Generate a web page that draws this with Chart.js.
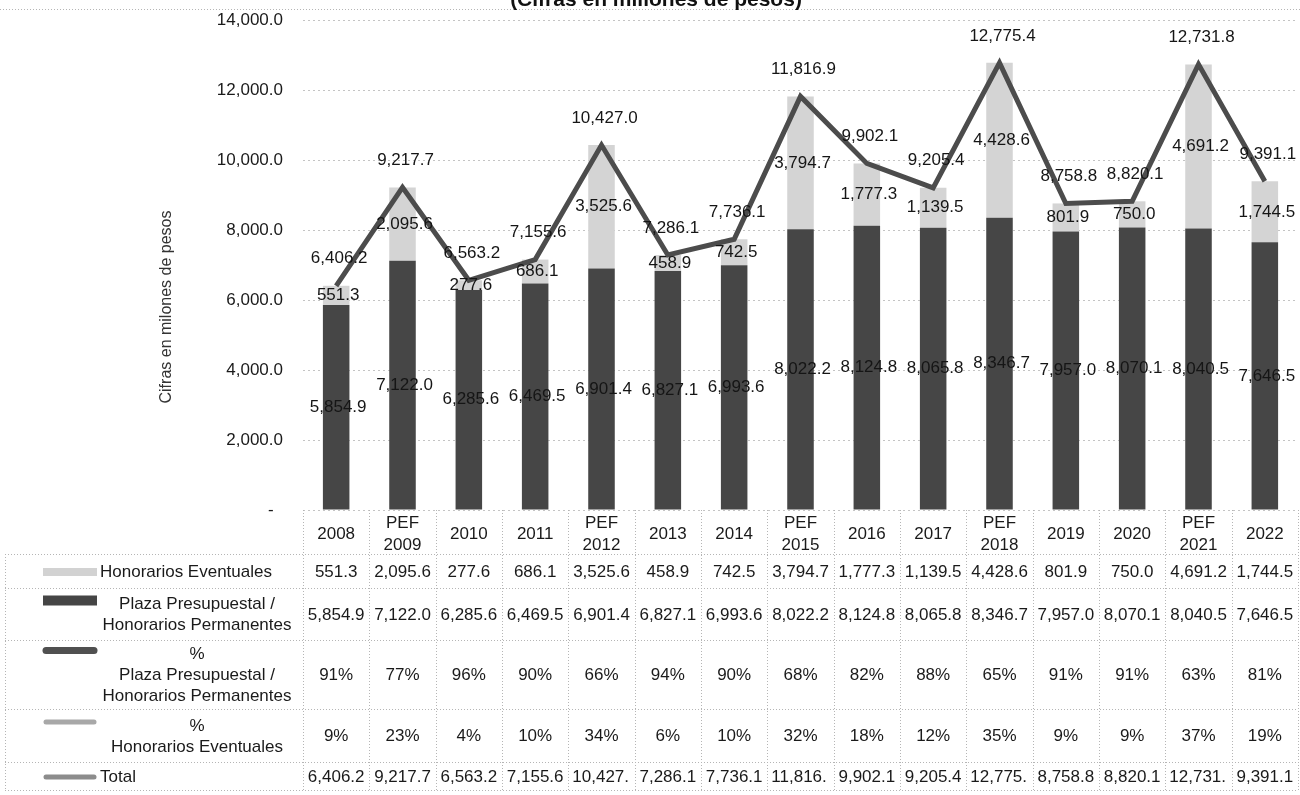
<!DOCTYPE html>
<html>
<head>
<meta charset="utf-8">
<script src="https://cdn.jsdelivr.net/npm/chart.js@4.4.0/dist/chart.umd.min.js"></script>
<style>
  html, body { margin: 0; padding: 0; background: #fff; }
  #wrap { width: 1300px; height: 795px; }
</style>
</head>
<body>
<div id="wrap"><canvas id="myChart" width="1300" height="795"></canvas></div>
<script>
const categories = ["2008", ["PEF", "2009"], "2010", "2011", ["PEF", "2012"], "2013", "2014", ["PEF", "2015"],
  "2016", "2017", ["PEF", "2018"], "2019", "2020", ["PEF", "2021"], "2022"];
const honorarios = [551.3, 2095.6, 277.6, 686.1, 3525.6, 458.9, 742.5, 3794.7, 1777.3, 1139.5, 4428.6, 801.9, 750.0, 4691.2, 1744.5];
const plaza = [5854.9, 7122.0, 6285.6, 6469.5, 6901.4, 6827.1, 6993.6, 8022.2, 8124.8, 8065.8, 8346.7, 7957.0, 8070.1, 8040.5, 7646.5];
const pctPlaza = [91, 77, 96, 90, 66, 94, 90, 68, 82, 88, 65, 91, 91, 63, 81];
const pctHonor = [9, 23, 4, 10, 34, 6, 10, 32, 18, 12, 35, 9, 9, 37, 19];
const total = [6406.2, 9217.7, 6563.2, 7155.6, 10427.0, 7286.1, 7736.1, 11816.9, 9902.1, 9205.4, 12775.4, 8758.8, 8820.1, 12731.8, 9391.1];

const FONT = "'Liberation Sans', Arial, sans-serif";
const fmt = (v) => v.toLocaleString("en-US", { minimumFractionDigits: 1, maximumFractionDigits: 1 });

// value labels on bars and line
const valueLabels = {
  id: "valueLabels",
  afterDatasetsDraw(chart) {
    const ctx = chart.ctx;
    ctx.save();
    ctx.font = "17px " + FONT;
    ctx.fillStyle = "#151515";
    ctx.textAlign = "center";
    ctx.textBaseline = "middle";
    chart.data.datasets.forEach((ds, i) => {
      const meta = chart.getDatasetMeta(i);
      meta.data.forEach((el, j) => {
        const v = ds.data[j];
        if (ds.type === "line") ctx.fillText(fmt(v), el.x + 3, el.y - 27);
        else ctx.fillText(fmt(v), el.x + 2, (el.y + el.base) / 2);
      });
    });
    ctx.restore();
  }
};

function drawSwatch(ctx, kind, y) {
  ctx.save();
  if (kind === "honor") {
    ctx.fillStyle = "#d2d2d2";
    ctx.fillRect(43, y - 4, 54, 8);
  } else if (kind === "plaza") {
    ctx.fillStyle = "#454545";
    ctx.fillRect(43, y - 5, 54, 10);
  } else {
    ctx.strokeStyle = kind === "lineDark" ? "#505050" : kind === "lineLight" ? "#a8a8a8" : "#8c8c8c";
    ctx.lineWidth = kind === "lineDark" ? 7 : 5;
    ctx.lineCap = "round";
    ctx.beginPath();
    ctx.moveTo(46, y);
    ctx.lineTo(94, y);
    ctx.stroke();
  }
  ctx.restore();
}

// data table under the chart + titles
const dataTable = {
  id: "dataTable",
  afterDraw(chart) {
    const ctx = chart.ctx;
    const xs = chart.scales.x;
    const n = categories.length;
    const step = xs.getPixelForValue(1) - xs.getPixelForValue(0);
    const x0 = xs.getPixelForValue(0) - step / 2;
    const xN = xs.getPixelForValue(n - 1) + step / 2;
    const top = chart.chartArea.bottom;
    const rowLines = [554, 588, 640, 709, 762, 790];
    const rows = [
      { values: honorarios.map(fmt), swatch: "honor", label: ["Honorarios Eventuales"] },
      { values: plaza.map(fmt), swatch: "plaza", label: ["Plaza Presupuestal /", "Honorarios Permanentes"] },
      { values: pctPlaza.map(v => v + "%"), swatch: "lineDark", label: ["%", "Plaza Presupuestal /", "Honorarios Permanentes"] },
      { values: pctHonor.map(v => v + "%"), swatch: "lineLight", label: ["%", "Honorarios Eventuales"] },
      { values: total.map(fmt), swatch: "lineMid", label: ["Total"] }
    ];

    ctx.save();
    ctx.strokeStyle = "#b5b5b5";
    ctx.lineWidth = 1;
    ctx.setLineDash([1, 2]);
    ctx.beginPath();
    rowLines.forEach(y => { ctx.moveTo(5, y + 0.5); ctx.lineTo(xN, y + 0.5); });
    for (let i = 0; i <= n; i++) {
      const x = Math.round(x0 + i * step) + 0.5;
      ctx.moveTo(x, top);
      ctx.lineTo(x, 790);
    }
    ctx.moveTo(5.5, 554);
    ctx.lineTo(5.5, 790);
    ctx.moveTo(0, 9.5);
    ctx.lineTo(1300, 9.5);
    ctx.stroke();
    ctx.setLineDash([]);

    ctx.font = "17px " + FONT;
    ctx.fillStyle = "#1a1a1a";
    ctx.textBaseline = "middle";
    rows.forEach((row, r) => {
      const yMid = (rowLines[r] + rowLines[r + 1]) / 2 + 1;
      row.values.forEach((txt, i) => {
        const cl = x0 + i * step;
        let t = txt;
        if (ctx.measureText(t).width > step - 4) {
          while (t.length && ctx.measureText(t).width > step - 7) t = t.slice(0, -1);
          ctx.textAlign = "left";
          ctx.fillText(t, cl + 4, yMid);
        } else {
          ctx.textAlign = "center";
          ctx.fillText(t, cl + step / 2, yMid);
        }
      });
      if (row.label.length === 1) {
        drawSwatch(ctx, row.swatch, yMid);
        ctx.textAlign = "left";
        ctx.fillText(row.label[0], 100, yMid);
      } else {
        const lh = 21;
        const first = yMid - (row.label.length - 1) * lh / 2;
        drawSwatch(ctx, row.swatch, first - 4);
        ctx.textAlign = "center";
        row.label.forEach((s, k) => ctx.fillText(s, 197, first + k * lh));
      }
    });

    // axis title
    ctx.save();
    ctx.translate(167, 307);
    ctx.rotate(-Math.PI / 2);
    ctx.font = "16px " + FONT;
    ctx.fillStyle = "#333";
    ctx.textAlign = "center";
    ctx.fillText("Cifras en milones de pesos", 0, 0);
    ctx.restore();

    // chart title (cut off at the top)
    ctx.font = "bold 21px " + FONT;
    ctx.fillStyle = "#111";
    ctx.textAlign = "center";
    ctx.textBaseline = "alphabetic";
    ctx.fillText("(Cifras en millones de pesos)", 656, 6);
    ctx.restore();
  }
};

const config = {
  data: {
    labels: categories,
    datasets: [
      {
        type: "line",
        label: "Total",
        data: total,
        borderColor: "#4c4c4c",
        borderWidth: 5,
        pointRadius: 0,
        tension: 0,
        borderJoinStyle: "miter",
        stack: "total",
        order: 0
      },
      {
        type: "bar",
        label: "Plaza Presupuestal / Honorarios Permanentes",
        data: plaza,
        backgroundColor: "#464646",
        stack: "bars",
        order: 1,
        categoryPercentage: 1,
        barPercentage: 0.4
      },
      {
        type: "bar",
        label: "Honorarios Eventuales",
        data: honorarios,
        backgroundColor: "#d4d4d4",
        stack: "bars",
        order: 1,
        categoryPercentage: 1,
        barPercentage: 0.4
      }
    ]
  },
  options: {
    responsive: false,
    animation: false,
    devicePixelRatio: 1,
    layout: { padding: { top: 20, right: 2, left: 0, bottom: 241 } },
    plugins: { legend: { display: false }, tooltip: { enabled: false } },
    scales: {
      x: {
        stacked: true,
        grid: { display: false, drawTicks: false },
        border: { display: false },
        ticks: {
          color: "#1a1a1a",
          font: { family: FONT, size: 17, lineHeight: 1.3 },
          padding: 13,
          maxRotation: 0,
          autoSkip: false,
          crossAlign: "center"
        },
        afterFit(scale) { scale.height = 44; }
      },
      y: {
        stacked: true,
        min: 0,
        max: 14000,
        grid: { color: "#c4c4c4", drawTicks: false },
        border: { display: false, dash: [2, 3] },
        ticks: {
          stepSize: 2000,
          color: "#1a1a1a",
          padding: 20,
          font: { family: FONT, size: 17 },
          callback: (v) => v === 0 ? "-  " : fmt(v)
        },
        afterFit(scale) {
          scale.width = 303;
          scale.paddingTop = 0;
          scale.paddingBottom = 0;
        }
      }
    }
  },
  plugins: [valueLabels, dataTable]
};

const myChart = new Chart(document.getElementById("myChart"), config);
</script>
</body>
</html>
